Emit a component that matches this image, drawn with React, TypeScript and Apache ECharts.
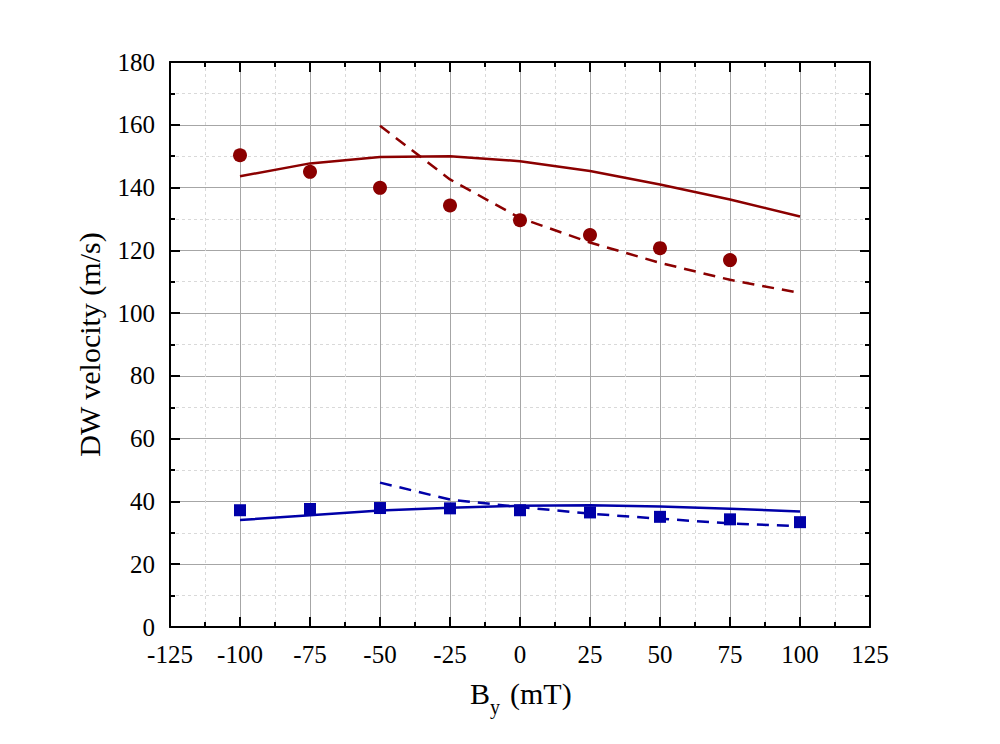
import React, { useEffect, useRef } from "react";
import * as echarts from "echarts";

const xFull = [-100, -75, -50, -25, 0, 25, 50, 75, 100];
const xDash = [-50, -25, 0, 25, 50, 75, 100];
const xTicks = [-125, -100, -75, -50, -25, 0, 25, 50, 75, 100, 125];

const redPoints = [150.3, 145, 139.9, 134.3, 129.6, 124.9, 120.7, 116.9];
const redSolid = [143.6, 147.7, 149.7, 150.0, 148.4, 145.3, 141.0, 136.2, 130.8];
const redDashed = [159.7, 142.6, 130.3, 122.5, 116.0, 110.6, 106.4];

const bluePoints = [37.2, 37.6, 37.9, 37.8, 37.2, 36.5, 35.1, 34.3, 33.4];
const blueSolid = [34.1, 35.6, 37.1, 38.0, 38.6, 38.8, 38.4, 37.7, 36.8];
const blueDashed = [46.0, 40.6, 38.2, 36.1, 34.5, 33.0, 32.1];

const xTitleMain = "B";
const xTitleSub = "y";
const xTitleUnit = "(mT)";
const yTitle = "DW velocity (m/s)";

const RED = "#8b0000";
const BLUE = "#0000a8";
const FONT = "'Liberation Serif', 'Times New Roman', serif";

const pairs = (xs: number[], ys: number[]) => ys.map((y, i) => [xs[i], y]);

export default function App() {
  const ref = useRef<HTMLDivElement>(null);
  useEffect(() => {
    if (!ref.current) return;
    const chart = echarts.init(ref.current, null, { renderer: "svg" });
    const majorSplit = { show: true, lineStyle: { color: "#a6a6a6", width: 1 } };
    const minorSplit = { show: true, lineStyle: { color: "#d9d9d9", width: 1, type: [3, 3] } };
    const axisLine = { show: true, onZero: false, lineStyle: { color: "#000", width: 2 } };
    const tick = { show: true, inside: true, length: 10, lineStyle: { color: "#000", width: 2 } };
    const minor = { show: true, splitNumber: 2, length: 5, lineStyle: { color: "#000", width: 2 } };
    const label = { color: "#000", fontSize: 25, fontFamily: FONT };
    chart.setOption({
      animation: false,
      backgroundColor: "#fff",
      textStyle: { fontFamily: FONT, fontSize: 25, color: "#000" },
      grid: { left: 170, top: 62, width: 700, height: 565 },
      graphic: [
        {
          type: "text",
          x: 470,
          y: 693,
          style: { text: xTitleMain, font: `30px ${FONT}`, fill: "#000", textAlign: "left", textVerticalAlign: "middle" },
        },
        {
          type: "text",
          x: 490,
          y: 707,
          style: { text: xTitleSub, font: `20px ${FONT}`, fill: "#000", textAlign: "left", textVerticalAlign: "middle" },
        },
        {
          type: "text",
          x: 510,
          y: 693,
          style: { text: xTitleUnit, font: `30px ${FONT}`, fill: "#000", textAlign: "left", textVerticalAlign: "middle" },
        },
      ],
      xAxis: [
        {
          type: "value",
          min: -125,
          max: 125,
          interval: 25,
          position: "bottom",
          axisLine,
          axisTick: tick,
          minorTick: minor,
          splitLine: majorSplit,
          minorSplitLine: minorSplit,
          axisLabel: {
            ...label,
            margin: 15,
            formatter: (v: number) => (xTicks.includes(v) ? String(v) : ""),
          },
        },
        {
          type: "value",
          min: -125,
          max: 125,
          interval: 25,
          position: "top",
          axisLine,
          axisTick: tick,
          minorTick: minor,
          splitLine: { show: false },
          axisLabel: { show: false },
        },
      ],
      yAxis: [
        {
          type: "value",
          min: 0,
          max: 180,
          interval: 20,
          position: "left",
          axisLine,
          axisTick: tick,
          minorTick: minor,
          splitLine: majorSplit,
          minorSplitLine: minorSplit,
          axisLabel: { ...label, margin: 15 },
          name: yTitle,
          nameLocation: "middle",
          nameGap: 66,
          nameTextStyle: { fontSize: 30, fontFamily: FONT, color: "#000" },
        },
        {
          type: "value",
          min: 0,
          max: 180,
          interval: 20,
          position: "right",
          axisLine,
          axisTick: tick,
          minorTick: minor,
          splitLine: { show: false },
          axisLabel: { show: false },
        },
      ],
      series: [
        {
          type: "line",
          data: pairs(xFull, redSolid),
          showSymbol: false,
          lineStyle: { color: RED, width: 2.5 },
          z: 3,
        },
        {
          type: "line",
          data: pairs(xDash, redDashed),
          showSymbol: false,
          lineStyle: { color: RED, width: 2.5, type: [12, 8] },
          z: 3,
        },
        {
          type: "scatter",
          data: pairs(xFull, redPoints),
          symbol: "circle",
          symbolSize: 14,
          itemStyle: { color: RED, opacity: 1 },
          z: 4,
        },
        {
          type: "line",
          data: pairs(xFull, blueSolid),
          showSymbol: false,
          lineStyle: { color: BLUE, width: 2.5 },
          z: 3,
        },
        {
          type: "line",
          data: pairs(xDash, blueDashed),
          showSymbol: false,
          lineStyle: { color: BLUE, width: 2.5, type: [12, 8] },
          z: 3,
        },
        {
          type: "scatter",
          data: pairs(xFull, bluePoints),
          symbol: "rect",
          symbolSize: 12,
          itemStyle: { color: BLUE, opacity: 1 },
          z: 4,
        },
      ],
    });
    return () => chart.dispose();
  }, []);
  return <div ref={ref} style={{ width: 1000, height: 744, position: "absolute", left: 0, top: 0 }} />;
}
